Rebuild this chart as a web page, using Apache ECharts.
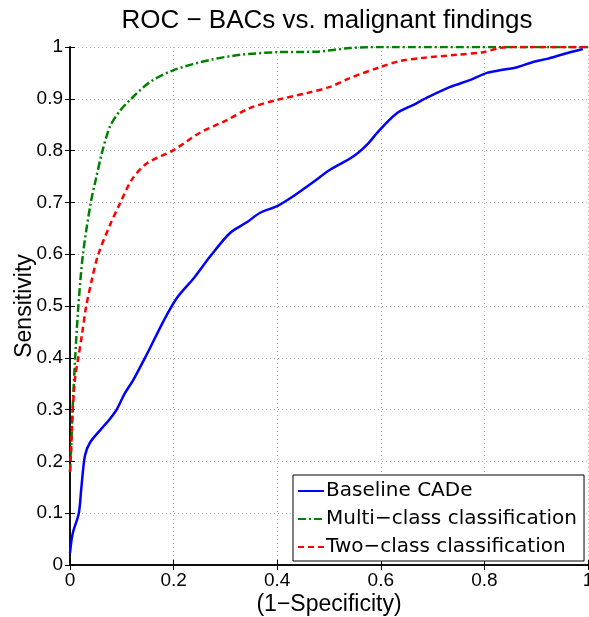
<!DOCTYPE html>
<html>
<head>
<meta charset="utf-8">
<script src="https://cdn.jsdelivr.net/npm/echarts@6/dist/echarts.min.js"></script>
<style>html,body{margin:0;padding:0;background:#fff;overflow:hidden}#c{width:589px;height:617px}</style>
</head>
<body>
<div id="c"></div>
<script>
const seriesNames = ['Baseline CADe', 'Multi\u2212class classification', 'Two\u2212class classification'];

const baselineFpr = [0, 0.005, 0.017, 0.022, 0.029, 0.039, 0.058, 0.077, 0.09, 0.105, 0.122, 0.15, 0.18, 0.206, 0.24, 0.27, 0.309, 0.342, 0.367, 0.4, 0.425, 0.469, 0.502, 0.546, 0.573, 0.598, 0.631, 0.662, 0.695, 0.734, 0.772, 0.805, 0.83, 0.863, 0.894, 0.921, 0.952, 0.99];
const baselineTpr = [0.023, 0.06, 0.10, 0.15, 0.212, 0.237, 0.26, 0.282, 0.30, 0.33, 0.357, 0.41, 0.47, 0.515, 0.555, 0.595, 0.641, 0.662, 0.68, 0.693, 0.708, 0.739, 0.763, 0.788, 0.811, 0.84, 0.872, 0.888, 0.905, 0.923, 0.936, 0.95, 0.955, 0.961, 0.971, 0.977, 0.986, 0.996];

const multiFpr = [0, 0.002, 0.005, 0.01, 0.016, 0.025, 0.04, 0.05, 0.062, 0.077, 0.095, 0.116, 0.154, 0.199, 0.27, 0.33, 0.4, 0.476, 0.54, 0.6, 1];
const multiTpr = [0.18, 0.22, 0.30, 0.40, 0.498, 0.60, 0.699, 0.745, 0.797, 0.846, 0.875, 0.898, 0.932, 0.955, 0.975, 0.985, 0.99, 0.991, 0.998, 1, 1];

const twoFpr = [0, 0.002, 0.005, 0.01, 0.016, 0.023, 0.031, 0.042, 0.054, 0.077, 0.097, 0.12, 0.148, 0.2, 0.25, 0.303, 0.347, 0.4, 0.457, 0.502, 0.54, 0.598, 0.637, 0.681, 0.747, 0.797, 0.83, 0.86, 1];
const twoTpr = [0.18, 0.22, 0.293, 0.363, 0.40, 0.444, 0.498, 0.55, 0.598, 0.656, 0.699, 0.745, 0.775, 0.801, 0.834, 0.859, 0.882, 0.898, 0.911, 0.923, 0.940, 0.961, 0.973, 0.979, 0.985, 0.99, 0.998, 1, 1];

const xTicks = [0, 0.2, 0.4, 0.6, 0.8, 1];
const yTicks = [0, 0.1, 0.2, 0.3, 0.4, 0.5, 0.6, 0.7, 0.8, 0.9, 1];

const pairs = (xs, ys) => xs.map((x, i) => [x, ys[i]]);
const FONT = 'Liberation Sans, Arial, Helvetica, sans-serif';
const WIDE = 'DejaVu Sans, Verdana, sans-serif';

const chart = echarts.init(document.getElementById('c'), null, {renderer: 'canvas'});
const gridLine = {show: true, lineStyle: {color: '#b4b4b4', type: [1, 3], width: 1}};
const axisLine = {show: true, lineStyle: {color: '#000', width: 1.5}};
const tick = {show: true, inside: true, length: 5, lineStyle: {color: '#000', width: 1}};

chart.setOption({
  animation: false,
  backgroundColor: '#fff',
  title: {
    text: 'ROC \u2212 BACs vs. malignant findings',
    left: 322, top: 3, textAlign: 'center',
    textStyle: {fontFamily: FONT, fontSize: 26, fontWeight: 'normal', color: '#000'}
  },
  grid: {left: 70, top: 47, right: 1, bottom: 52, containLabel: false, outerBoundsMode: 'none'},
  xAxis: [{
    type: 'value', min: 0, max: 1, interval: 0.2,
    axisLine: axisLine, axisTick: tick, splitLine: gridLine,
    axisLabel: {fontFamily: FONT, fontSize: 19, color: '#000', margin: 6, hideOverlap: false,
      formatter: v => xTicks.includes(+v.toFixed(1)) ? String(+v.toFixed(1)) : ''},
    name: '(1\u2212Specificity)', nameLocation: 'middle', nameGap: 28, nameMoveOverlap: false,
    nameTextStyle: {fontFamily: FONT, fontSize: 23, color: '#000'}
  }, {
    type: 'value', min: 0, max: 1, interval: 0.2, position: 'top',
    axisLine: axisLine, axisTick: tick, splitLine: {show: false}, axisLabel: {show: false}
  }],
  yAxis: [{
    type: 'value', min: 0, max: 1, interval: 0.1,
    axisLine: axisLine, axisTick: tick, splitLine: gridLine,
    axisLabel: {fontFamily: FONT, fontSize: 19, color: '#000', margin: 7, hideOverlap: false,
      formatter: v => yTicks.includes(+v.toFixed(1)) ? String(+v.toFixed(1)) : ''},
    name: 'Sensitivity', nameLocation: 'middle', nameGap: 34, nameRotate: 90, nameMoveOverlap: false,
    nameTextStyle: {fontFamily: FONT, fontSize: 23, color: '#000'}
  }, {
    type: 'value', min: 0, max: 1, interval: 0.1, position: 'right',
    axisLine: axisLine, axisTick: tick, splitLine: {show: false}, axisLabel: {show: false}
  }],
  legend: {
    left: 293, top: 475, orient: 'vertical',
    backgroundColor: '#fff', borderColor: '#000', borderWidth: 1,
    padding: [6, 7, 4, 4], itemWidth: 26, itemHeight: 14, itemGap: 8,
    itemStyle: {opacity: 0},
    textStyle: {fontFamily: WIDE, fontSize: 20, color: '#000', padding: [0, 0, 0, -3]},
    data: seriesNames
  },
  series: [{
    name: seriesNames[0], type: 'line', symbol: 'none', smooth: 0.3,
    data: pairs(baselineFpr, baselineTpr),
    lineStyle: {color: '#0000ff', width: 2.5, type: 'solid'}, itemStyle: {color: '#0000ff'}
  }, {
    name: seriesNames[1], type: 'line', symbol: 'none', smooth: 0.3,
    data: pairs(multiFpr, multiTpr),
    lineStyle: {color: '#008000', width: 2.5, type: [8, 3, 2, 3]}, itemStyle: {color: '#008000'}
  }, {
    name: seriesNames[2], type: 'line', symbol: 'none', smooth: 0.3,
    data: pairs(twoFpr, twoTpr),
    lineStyle: {color: '#ff0000', width: 2.5, type: [6, 4]}, itemStyle: {color: '#ff0000'}
  }]
});
</script>
</body>
</html>
